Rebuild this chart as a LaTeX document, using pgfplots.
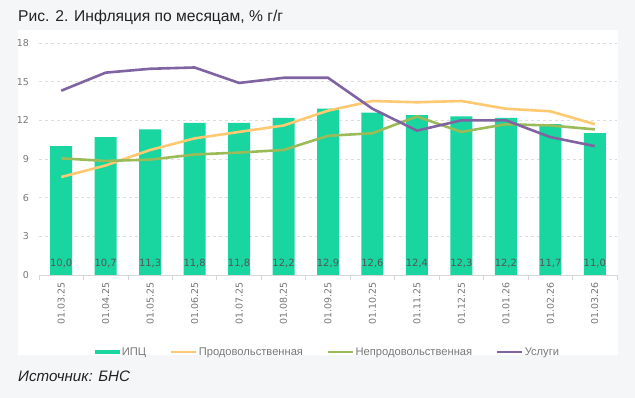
\documentclass[border=0pt]{standalone}
\usepackage{fontspec}
\setmainfont{Liberation Sans}
\newfontfamily\dejavu{DejaVu Sans}
\usepackage{pgfplots}
\pgfplotsset{compat=1.18}
\usepackage{pgfplotstable}
\definecolor{ipc}{RGB}{25,213,159}
\definecolor{food}{RGB}{255,201,113}
\definecolor{nonfood}{RGB}{155,187,89}
\definecolor{serv}{RGB}{128,100,162}
\definecolor{bggray}{RGB}{245,246,248}
\definecolor{gridgray}{RGB}{221,221,221}
\definecolor{axgray}{RGB}{215,215,215}
\definecolor{ticktext}{RGB}{120,120,120}
\definecolor{labtext}{RGB}{85,85,85}
\definecolor{titletext}{RGB}{34,34,34}

\pgfplotstableread{
x ipc food nonfood serv
0 10.0 7.6 9.05 14.3
1 10.7 8.5 8.85 15.7
2 11.3 9.7 8.95 16.0
3 11.8 10.6 9.35 16.1
4 11.8 11.1 9.5 14.9
5 12.2 11.6 9.7 15.3
6 12.9 12.75 10.8 15.3
7 12.6 13.5 11.0 12.9
8 12.4 13.4 12.3 11.2
9 12.3 13.5 11.1 12.0
10 12.2 12.9 11.7 12.0
11 11.7 12.7 11.6 10.7
12 11.0 11.7 11.3 10.0
}\datatable

\pgfplotstableread{
x y lab
0 0.3 10,0
1 0.3 10,7
2 0.3 11,3
3 0.3 11,8
4 0.3 11,8
5 0.3 12,2
6 0.3 12,9
7 0.3 12,6
8 0.3 12,4
9 0.3 12,3
10 0.3 12,2
11 0.3 11,7
12 0.3 11,0
}\labtable

\begin{document}
\begin{tikzpicture}
\fill[bggray] (0bp,0bp) rectangle (635bp,398bp);
\fill[white] (18bp,43bp) rectangle (618bp,368bp);
\node[anchor=base west, inner sep=0pt, text=titletext, font=\fontsize{15.7}{18}\selectfont] at (18bp,376bp) {Рис. 2. Инфляция по месяцам, \% г/г};
\node[anchor=base west, inner sep=0pt, text=titletext, font=\itshape\fontsize{15.2}{17}\selectfont] at (18bp,17bp) {Источник: БНС};
\begin{axis}[
  at={(39bp,123bp)}, anchor=south west,
  width=578bp, height=232bp, scale only axis,
  xmin=-0.5, xmax=12.5, ymin=0, ymax=18,
  axis x line*=bottom, axis y line*=left,
  x axis line style={draw=axgray, line width=0.8bp},
  y axis line style={draw=none},
  ytick={0,3,...,18},
  ymajorgrids, grid style={draw=gridgray, dash pattern=on 3bp off 3bp, line width=0.8bp},
  major tick length=0pt,
  /pgf/number format/assume math mode=true,
  yticklabel style={font=\dejavu\fontsize{9.5}{10}\selectfont, text=ticktext, anchor=east, inner sep=0pt, xshift=-10bp},
  xtick={0,...,12},
  xticklabels={01.03.25,01.04.25,01.05.25,01.06.25,01.07.25,01.08.25,01.09.25,01.10.25,01.11.25,01.12.25,01.01.26,01.02.26,01.03.26},
  xticklabel style={font=\dejavu\fontsize{9.5}{10}\selectfont, text=ticktext, anchor=east, inner sep=0pt, yshift=-7bp, rotate=90},
  extra x ticks={-0.5,0.5,...,12.5},
  extra x tick labels={},
  extra x tick style={major tick length=5bp, tick align=outside, tick style={draw=axgray, line width=0.8bp}, grid=none},
  legend columns=4,
  legend style={draw=none, fill=none, at={(0.5,-0.332)}, anchor=center,
    font=\fontsize{11.2}{13}\selectfont, text=ticktext,
    /tikz/every even column/.append style={column sep=22bp},
    nodes={inner sep=1.5bp}},
  legend cell align=left,
  clip=false,
]
\addplot[ybar, bar width=22bp, fill=ipc, draw=none,
  legend image code/.code={\fill[ipc] (0bp,-2bp) rectangle (25bp,2bp);}]
  table[x=x, y=ipc] {\datatable};
\addlegendentry{ИПЦ}
\addplot[food, line width=2.6bp, mark=none,
  legend image code/.code={\draw[food, line width=2.6bp] (0bp,0bp) -- (25bp,0bp);}]
  table[x=x, y=food] {\datatable};
\addlegendentry{Продовольственная}
\addplot[nonfood, line width=2.6bp, mark=none,
  legend image code/.code={\draw[nonfood, line width=2.6bp] (0bp,0bp) -- (25bp,0bp);}]
  table[x=x, y=nonfood] {\datatable};
\addlegendentry{Непродовольственная}
\addplot[serv, line width=2.6bp, mark=none,
  legend image code/.code={\draw[serv, line width=2.6bp] (0bp,0bp) -- (25bp,0bp);}]
  table[x=x, y=serv] {\datatable};
\addlegendentry{Услуги}
\addplot[draw=none, mark=none, forget plot,
  nodes near coords, point meta=explicit symbolic,
  every node near coord/.append style={font=\dejavu\fontsize{10}{11}\selectfont, text=labtext}]
  table[x=x, y=y, meta=lab] {\labtable};
\end{axis}
\pgfresetboundingbox
\useasboundingbox (0bp,0bp) rectangle (635bp,398bp);
\end{tikzpicture}
\end{document}
